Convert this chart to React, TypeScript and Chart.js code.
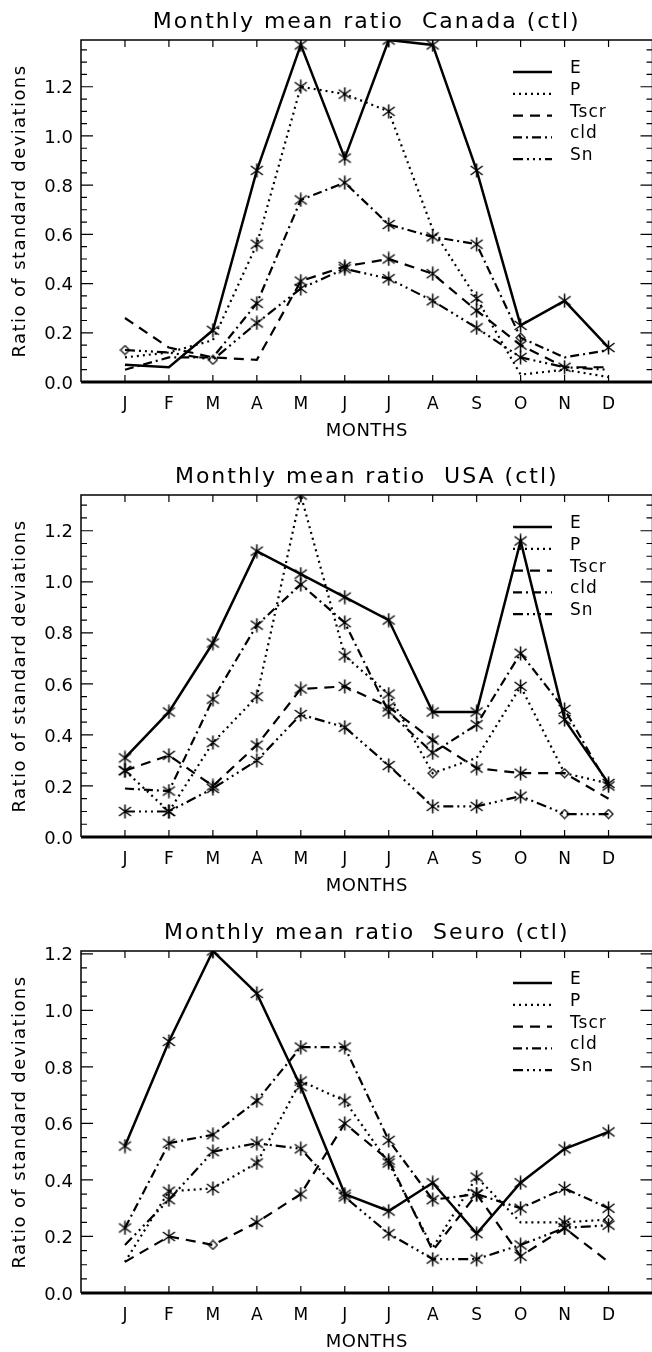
import React, { useEffect, useRef } from "react";
import { Chart, registerables } from "chart.js";

Chart.register(...registerables);

const MONTH_LABELS = ["J", "F", "M", "A", "M", "J", "J", "A", "S", "O", "N", "D"];
const SERIES_LABELS = ["E", "P", "Tscr", "cld", "Sn"];

// Canada
const CANADA_E = [0.07, 0.06, 0.21, 0.86, 1.37, 0.91, 1.39, 1.37, 0.86, 0.23, 0.33, 0.14];
const CANADA_P = [0.10, 0.12, 0.17, 0.56, 1.20, 1.17, 1.10, 0.62, 0.34, 0.03, 0.05, 0.02];
const CANADA_TSCR = [0.26, 0.14, 0.10, 0.09, 0.41, 0.47, 0.50, 0.44, 0.29, 0.15, 0.06, 0.06];
const CANADA_CLD = [0.05, 0.10, 0.10, 0.32, 0.74, 0.81, 0.64, 0.59, 0.56, 0.18, 0.10, 0.13];
const CANADA_SN = [0.13, 0.12, 0.09, 0.24, 0.38, 0.46, 0.42, 0.33, 0.22, 0.10, 0.06, 0.05];
// per-month symbol: "*" asterisk, "d" diamond, "." no symbol
const CANADA_E_SYM = "..**********";
const CANADA_P_SYM = "...****.*...";
const CANADA_TSCR_SYM = "....*******.";
const CANADA_CLD_SYM = "...******d..";
const CANADA_SN_SYM = "d.d*******..";

// USA
const USA_E = [0.31, 0.49, 0.76, 1.12, 1.03, 0.94, 0.85, 0.49, 0.49, 1.16, 0.46, 0.21];
const USA_P = [0.26, 0.10, 0.37, 0.55, 1.34, 0.71, 0.56, 0.25, 0.31, 0.59, 0.25, 0.21];
const USA_TSCR = [0.26, 0.32, 0.20, 0.36, 0.58, 0.59, 0.51, 0.38, 0.27, 0.25, 0.25, 0.15];
const USA_CLD = [0.19, 0.18, 0.54, 0.83, 0.99, 0.84, 0.49, 0.33, 0.44, 0.72, 0.50, 0.20];
const USA_SN = [0.10, 0.10, 0.19, 0.30, 0.48, 0.43, 0.28, 0.12, 0.12, 0.16, 0.09, 0.09];
const USA_E_SYM = "************";
const USA_P_SYM = "*******d.*d.";
const USA_TSCR_SYM = "**********..";
const USA_CLD_SYM = ".***********";
const USA_SN_SYM = "**********dd";

// Southern Europe
const SEURO_E = [0.52, 0.89, 1.21, 1.06, 0.73, 0.35, 0.29, 0.39, 0.21, 0.39, 0.51, 0.57];
const SEURO_P = [0.11, 0.36, 0.37, 0.46, 0.75, 0.68, 0.46, 0.16, 0.41, 0.25, 0.25, 0.26];
const SEURO_TSCR = [0.11, 0.20, 0.17, 0.25, 0.35, 0.60, 0.47, 0.15, 0.35, 0.13, 0.23, 0.11];
const SEURO_CLD = [0.23, 0.53, 0.56, 0.68, 0.87, 0.87, 0.54, 0.33, 0.35, 0.30, 0.37, 0.30];
const SEURO_SN = [0.17, 0.33, 0.50, 0.53, 0.51, 0.34, 0.21, 0.12, 0.12, 0.17, 0.23, 0.24];
const SEURO_E_SYM = "************";
const SEURO_P_SYM = ".******.*.*d";
const SEURO_TSCR_SYM = ".*d****.***.";
const SEURO_CLD_SYM = "************";
const SEURO_SN_SYM = ".***********";

const FONT = '"DejaVu Sans", "Noto Sans", sans-serif';
const LINE_DASHES: number[][] = [[], [2, 4], [10, 7], [9, 4, 2, 4], [10, 4, 2, 4, 2, 4, 2, 4]];
const LINE_WIDTHS = [2.5, 2.2, 2.2, 2.2, 2.2];

const CANVAS_W = 660;
const CANVAS_H = 456;

function makeAsterisk(): HTMLCanvasElement {
  const c = document.createElement("canvas");
  c.width = 15;
  c.height = 15;
  const g = c.getContext("2d")!;
  g.strokeStyle = "#000";
  g.lineWidth = 1.5;
  g.beginPath();
  g.moveTo(7.5, 0.5);
  g.lineTo(7.5, 14.5);
  g.moveTo(1.5, 3);
  g.lineTo(13.5, 12);
  g.moveTo(1.5, 12);
  g.lineTo(13.5, 3);
  g.stroke();
  return c;
}

function makeDiamond(): HTMLCanvasElement {
  const c = document.createElement("canvas");
  c.width = 11;
  c.height = 11;
  const g = c.getContext("2d")!;
  g.strokeStyle = "#000";
  g.lineWidth = 1.2;
  g.beginPath();
  g.moveTo(5.5, 1);
  g.lineTo(10, 5.5);
  g.lineTo(5.5, 10);
  g.lineTo(1, 5.5);
  g.closePath();
  g.stroke();
  return c;
}

type PanelProps = {
  title: string;
  series: number[][];
  symbols: string[];
  top: number;
};

function Panel({ title, series, symbols, top }: PanelProps) {
  const ref = useRef<HTMLCanvasElement | null>(null);

  useEffect(() => {
    if (!ref.current) return;
    const asterisk = makeAsterisk();
    const diamond = makeDiamond();
    const yMax = Math.max(...series.flat());
    const majors: number[] = [];
    for (let i = 0; i * 0.2 <= yMax + 1e-9; i++) majors.push(Math.round(i * 2) / 10);

    const frame = {
      id: "idlFrame",
      afterDraw(chart: any) {
        const { ctx, chartArea: a, scales } = chart;
        const xs = scales.x;
        const ys = scales.y;
        ctx.save();
        ctx.strokeStyle = "#000";
        ctx.fillStyle = "#000";
        ctx.setLineDash([]);

        // plot box
        ctx.lineWidth = 1.5;
        ctx.beginPath();
        ctx.moveTo(a.left, a.bottom);
        ctx.lineTo(a.left, a.top);
        ctx.lineTo(a.right, a.top);
        ctx.lineTo(a.right, a.bottom);
        ctx.stroke();
        ctx.lineWidth = 3;
        ctx.beginPath();
        ctx.moveTo(a.left, a.bottom);
        ctx.lineTo(a.right, a.bottom);
        ctx.stroke();

        // inward tick marks
        ctx.lineWidth = 1.2;
        ctx.beginPath();
        for (let m = 1; m <= 12; m++) {
          const px = xs.getPixelForValue(m);
          ctx.moveTo(px, a.bottom);
          ctx.lineTo(px, a.bottom - 7);
          ctx.moveTo(px, a.top);
          ctx.lineTo(px, a.top + 7);
        }
        for (let i = 0; i * 0.05 <= yMax + 1e-9; i++) {
          const py = ys.getPixelForValue(i * 0.05);
          const len = i % 4 === 0 ? 12 : 6;
          ctx.moveTo(a.left, py);
          ctx.lineTo(a.left + len, py);
          ctx.moveTo(a.right, py);
          ctx.lineTo(a.right - len, py);
        }
        ctx.stroke();

        const cx = (a.left + a.right) / 2;

        // title
        ctx.font = `22px ${FONT}`;
        (ctx as any).letterSpacing = "2px";
        ctx.textAlign = "center";
        ctx.textBaseline = "alphabetic";
        ctx.fillText(title, cx, 28);

        // x axis title
        (ctx as any).letterSpacing = "0.5px";
        ctx.font = `18px ${FONT}`;
        ctx.fillText("MONTHS", cx, 436);

        // y axis title
        ctx.save();
        (ctx as any).letterSpacing = "1.4px";
        ctx.translate(25, (a.top + a.bottom) / 2);
        ctx.rotate(-Math.PI / 2);
        ctx.fillText("Ratio of standard deviations", 0, 0);
        ctx.restore();

        // legend
        ctx.font = `17px ${FONT}`;
        (ctx as any).letterSpacing = "1px";
        ctx.textAlign = "left";
        chart.data.datasets.forEach((ds: any, k: number) => {
          const ly = 72 + k * 21.8;
          ctx.lineWidth = ds.borderWidth;
          ctx.lineCap = "butt";
          ctx.setLineDash(ds.borderDash);
          ctx.beginPath();
          ctx.moveTo(513, ly);
          ctx.lineTo(552, ly);
          ctx.stroke();
          ctx.setLineDash([]);
          ctx.fillText(ds.label, 570, ly + 1);
        });
        ctx.restore();
      },
    };

    const chart = new Chart(ref.current, {
      type: "line",
      data: {
        datasets: series.map((vals, k) => ({
          label: SERIES_LABELS[k],
          data: vals.map((v, i) => ({ x: i + 1, y: v })),
          borderColor: "#000",
          borderWidth: LINE_WIDTHS[k],
          borderDash: LINE_DASHES[k],
          borderCapStyle: "butt",
          tension: 0,
          fill: false,
          pointBorderColor: "#000",
          pointBackgroundColor: "rgba(0,0,0,0)",
          pointStyle: (c: any) => {
            const s = c.dataIndex == null ? "." : symbols[k][c.dataIndex];
            if (s === "*") return asterisk;
            if (s === "d") return diamond;
            return "circle";
          },
          pointRadius: (c: any) => {
            const s = c.dataIndex == null ? "." : symbols[k][c.dataIndex];
            return s === "." ? 0 : 5;
          },
        })),
      },
      options: {
        responsive: false,
        animation: false,
        events: [],
        layout: { padding: { top: 40, right: 6, left: 0, bottom: 0 } },
        plugins: {
          legend: { display: false },
          title: { display: false },
          tooltip: { enabled: false },
        },
        scales: {
          x: {
            type: "linear",
            min: 0,
            max: 13,
            grid: { display: false, drawTicks: false },
            border: { display: false },
            afterBuildTicks: (s: any) => {
              s.ticks = MONTH_LABELS.map((_, i) => ({ value: i + 1 }));
            },
            afterFit: (s: any) => {
              s.height = CANVAS_H - 382;
            },
            ticks: {
              autoSkip: false,
              maxRotation: 0,
              padding: 12,
              color: "#000",
              font: { family: FONT, size: 17 },
              callback: (v: any) => MONTH_LABELS[Math.round(Number(v)) - 1],
            },
          },
          y: {
            type: "linear",
            min: 0,
            max: yMax,
            grid: { display: false, drawTicks: false },
            border: { display: false },
            afterBuildTicks: (s: any) => {
              s.ticks = majors.map((v) => ({ value: v }));
            },
            afterFit: (s: any) => {
              s.width = 81;
            },
            ticks: {
              padding: 8,
              labelOffset: 2,
              color: "#000",
              font: { family: FONT, size: 18 },
              callback: (v: any) => Number(v).toFixed(1),
            },
          },
        },
      },
      plugins: [frame],
    } as any);

    return () => chart.destroy();
  }, [title, series, symbols]);

  return (
    <canvas
      ref={ref}
      width={CANVAS_W}
      height={CANVAS_H}
      style={{ position: "absolute", left: 0, top, width: CANVAS_W, height: CANVAS_H }}
    />
  );
}

const CANADA_SERIES = [CANADA_E, CANADA_P, CANADA_TSCR, CANADA_CLD, CANADA_SN];
const CANADA_SYMBOLS = [CANADA_E_SYM, CANADA_P_SYM, CANADA_TSCR_SYM, CANADA_CLD_SYM, CANADA_SN_SYM];
const USA_SERIES = [USA_E, USA_P, USA_TSCR, USA_CLD, USA_SN];
const USA_SYMBOLS = [USA_E_SYM, USA_P_SYM, USA_TSCR_SYM, USA_CLD_SYM, USA_SN_SYM];
const SEURO_SERIES = [SEURO_E, SEURO_P, SEURO_TSCR, SEURO_CLD, SEURO_SN];
const SEURO_SYMBOLS = [SEURO_E_SYM, SEURO_P_SYM, SEURO_TSCR_SYM, SEURO_CLD_SYM, SEURO_SN_SYM];

export default function App() {
  return (
    <div
      style={{
        position: "absolute",
        left: 0,
        top: 0,
        width: 652,
        height: 1352,
        overflow: "hidden",
        background: "#fff",
      }}
    >
      <Panel title="Monthly mean ratio  Canada (ctl)" series={CANADA_SERIES} symbols={CANADA_SYMBOLS} top={0} />
      <Panel title="Monthly mean ratio  USA (ctl)" series={USA_SERIES} symbols={USA_SYMBOLS} top={455} />
      <Panel title="Monthly mean ratio  Seuro (ctl)" series={SEURO_SERIES} symbols={SEURO_SYMBOLS} top={911} />
    </div>
  );
}
